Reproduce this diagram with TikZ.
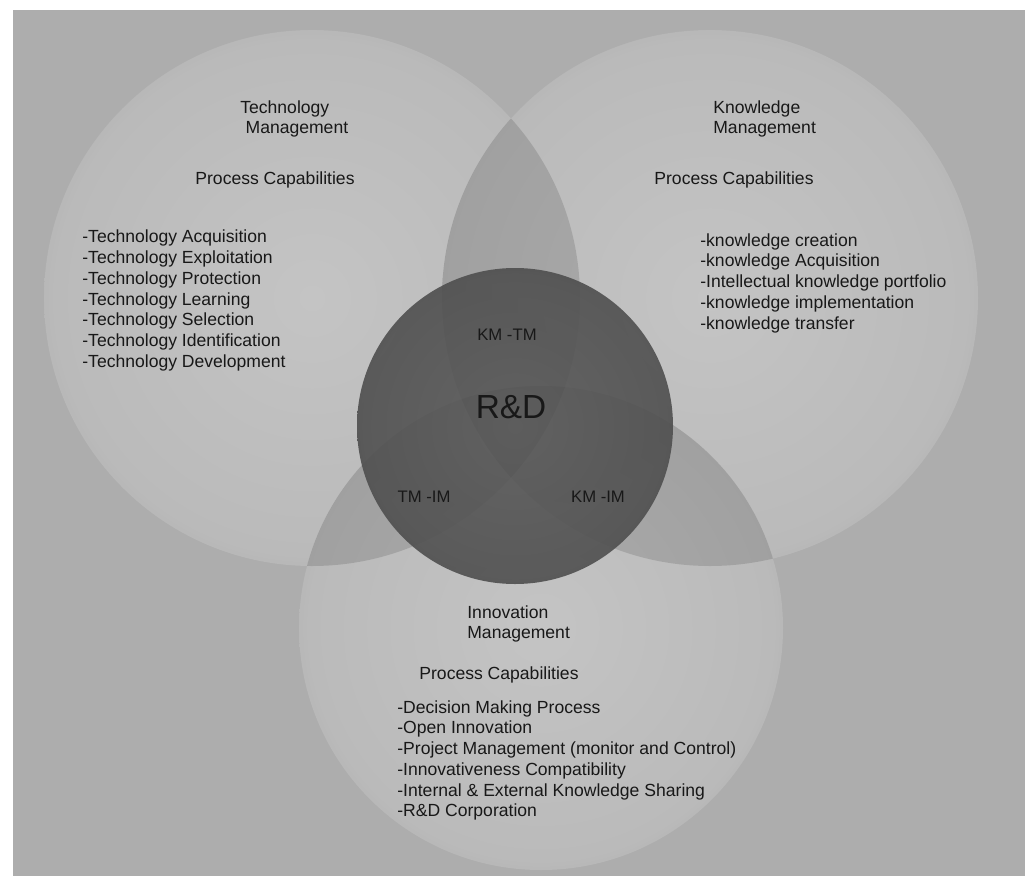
\documentclass[tikz,border=0pt]{standalone}
\usepackage{fontspec}
\setmainfont{Liberation Sans}
\definecolor{bggray}{HTML}{ADADAD}
\definecolor{vennlite}{HTML}{C4C4C4}
\definecolor{vennmid}{HTML}{BABABA}
\definecolor{vennrim}{HTML}{A6A6A6}
\definecolor{venndark}{HTML}{939393}
\definecolor{rdlite}{HTML}{5A5A5A}
\definecolor{rdmid}{HTML}{505050}
\definecolor{rddark}{HTML}{363636}
\definecolor{inkgray}{HTML}{181818}
\pgfdeclareradialshading{vennshade}{\pgfpoint{0bp}{0bp}}{color(0bp)=(vennlite); color(24bp)=(vennmid); color(32bp)=(vennrim); color(35bp)=(venndark); color(50bp)=(venndark)}
\pgfdeclareradialshading{rdshade}{\pgfpoint{0bp}{0bp}}{color(0bp)=(rdlite); color(24bp)=(rdmid); color(35bp)=(rddark); color(50bp)=(rddark)}

\begin{document}
\begin{tikzpicture}[x=0.02cm, y=-0.02cm, font=\fontsize{10}{11.8}\selectfont, text=inkgray,
  lens/.style={fill=black, fill opacity=0.13},
  headtxt/.style={align=left, anchor=west, inner sep=0pt},
  listtxt/.style={align=left, anchor=west, inner sep=0pt},
  pairtxt/.style={inner sep=0pt, font=\fontsize{9.5}{11}\selectfont}]
\useasboundingbox (0,0) rectangle (1025,876);
\fill[white] (0,0) rectangle (1025,876);
\fill[bggray] (13,10) rectangle (1025,876);

\coordinate (tm) at (312,298);
\coordinate (km) at (710,298);
\coordinate (im) at (541,628);
\coordinate (rd) at (515,426);

% the three capability circles
\shade[shading=vennshade] (tm) circle (268);
\shade[shading=vennshade] (km) circle (268);
\shade[shading=vennshade] (im) circle (242);

% overlaps
\begin{scope}
  \clip (tm) circle (268);
  \fill[lens] (km) circle (268);
  \fill[lens] (im) circle (242);
\end{scope}
\begin{scope}
  \clip (km) circle (268);
  \fill[lens] (im) circle (242);
\end{scope}

% R&D core
\shade[shading=rdshade, opacity=0.9] (rd) circle (158);

% Technology Management
\node[headtxt] (tmhead) at (240,119) {Technology\\\hspace{3pt}Management};
\node[inner sep=0pt] (tmcap) at (275,180) {Process Capabilities};
\node[listtxt] (tmlist) at (82,300.5) {-Technology Acquisition\\-Technology Exploitation\\-Technology Protection\\-Technology Learning\\-Technology Selection\\-Technology Identification\\-Technology Development};

% Knowledge Management
\node[headtxt] (kmhead) at (713,119) {Knowledge\\Management};
\node[inner sep=0pt] (kmcap) at (734,180) {Process Capabilities};
\node[listtxt] (kmlist) at (700,283) {-knowledge creation\\-knowledge Acquisition\\-Intellectual knowledge portfolio\\-knowledge implementation\\-knowledge transfer};

% Innovation Management
\node[headtxt] (imhead) at (467,624) {Innovation\\Management};
\node[inner sep=0pt] (imcap) at (499,675) {Process Capabilities};
\node[listtxt] (imlist) at (397,760.5) {-Decision Making Process\\-Open Innovation\\-Project Management (monitor and Control)\\-Innovativeness Compatibility\\-Internal \& External Knowledge Sharing\\-R\&D Corporation};

% centre labels
\node[inner sep=0pt, font=\fontsize{19}{22}\selectfont] (rdlabel) at (511,407) {R\&D};
\node[pairtxt] (kmtm) at (507,335) {KM -TM};
\node[pairtxt] (tmim) at (424,497) {TM -IM};
\node[pairtxt] (kmim) at (598,497) {KM -IM};
\end{tikzpicture}
\end{document}
